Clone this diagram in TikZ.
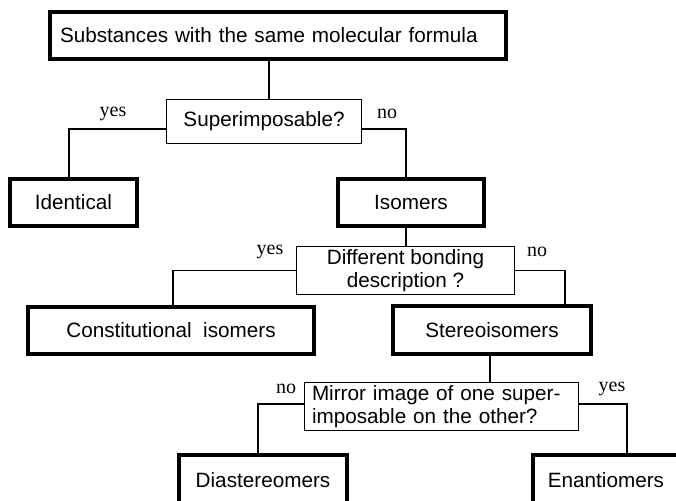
\documentclass[tikz,border=0pt]{standalone}
\usepackage{fontspec}
\setmainfont{Liberation Serif}
\setsansfont{Liberation Sans}
\begin{document}
\begin{tikzpicture}[x=1pt, y=-1pt,
        result/.style={draw, line width=4pt, inner sep=0pt,
            font=\sffamily\fontsize{20.7}{23}\selectfont},
        question/.style={draw, line width=1.3pt, inner sep=0pt,
            font=\sffamily\fontsize{20.7}{23}\selectfont},
        answer/.style={inner sep=0pt, font=\rmfamily\fontsize{20}{23}\selectfont},
        link/.style={line width=1.3pt}]
    \useasboundingbox (0, 0) rectangle (676, 500);
    \clip (0, 0) rectangle (676, 500);
    \node[result, text width=436pt, align=left, inner xsep=10pt, minimum height=47pt]
        (formula) at (278, 35.5) {Substances with the same molecular formula};
    \node[question, minimum width=194.7pt, minimum height=43.7pt]
        (same) at (264, 121.5) {Superimposable?};
    \node[result, minimum width=127pt, minimum height=47pt]
        (identical) at (73.5, 202.5) {Identical};
    \node[result, minimum width=146pt, minimum height=47pt]
        (isomers) at (411, 202.5) {Isomers};
    \node[question, align=center, minimum width=217.7pt, minimum height=47.7pt]
        (bonding) at (405.5, 270.5) {Different bonding\\description ?};
    \node[result, minimum width=286pt, minimum height=47pt]
        (constitutional) at (171, 330.5) {Constitutional\ \ isomers};
    \node[result, minimum width=198pt, minimum height=48pt]
        (stereo) at (492, 330) {Stereoisomers};
    \node[question, text width=259pt, align=left, inner xsep=7.3pt, minimum height=47.7pt]
        (mirror) at (441.5, 406.5) {Mirror image of one super-\\imposable on the other?};
    \node[result, minimum width=168pt, minimum height=55pt]
        (diastereo) at (263, 482.5) {\raisebox{5.5pt}{Diastereomers}};
    \node[result, minimum width=146pt, minimum height=55pt]
        (enantio) at (606, 482.5) {\raisebox{5.5pt}{Enantiomers}};

    \node[answer] (sameyes) at (113, 114) {yes};
    \node[answer] (sameno) at (387, 114) {no};
    \node[answer] (bondingyes) at (270, 252) {yes};
    \node[answer] (bondingno) at (537, 252) {no};
    \node[answer] (mirrorno) at (286, 389) {no};
    \node[answer] (mirroryes) at (612, 389) {yes};

    \draw[link]
        ([xshift=-9pt]formula.south) -- ([xshift=-9pt]formula.south |- same.north);
    \draw[link]
        ([yshift=-7.5pt]same.west) -| ([xshift=-4.5pt]identical.north);
    \draw[link]
        ([yshift=-7.5pt]same.east) -| ([xshift=-5pt]isomers.north);
    \draw[link]
        ([xshift=-5pt]isomers.south) -- ([xshift=-5pt]isomers.south |- bonding.north);
    \draw[link]
        (bonding.west) -| ([xshift=2pt]constitutional.north);
    \draw[link]
        (bonding.east) -| ([xshift=73pt]stereo.north);
    \draw[link]
        ([xshift=-2pt]stereo.south) -- ([xshift=-2pt]stereo.south |- mirror.north);
    \draw[link]
        ([yshift=2.5pt]mirror.west) -| ([xshift=-5pt]diastereo.north);
    \draw[link]
        ([yshift=2.5pt]mirror.east) -| ([xshift=21pt]enantio.north);
\end{tikzpicture}
\end{document}
